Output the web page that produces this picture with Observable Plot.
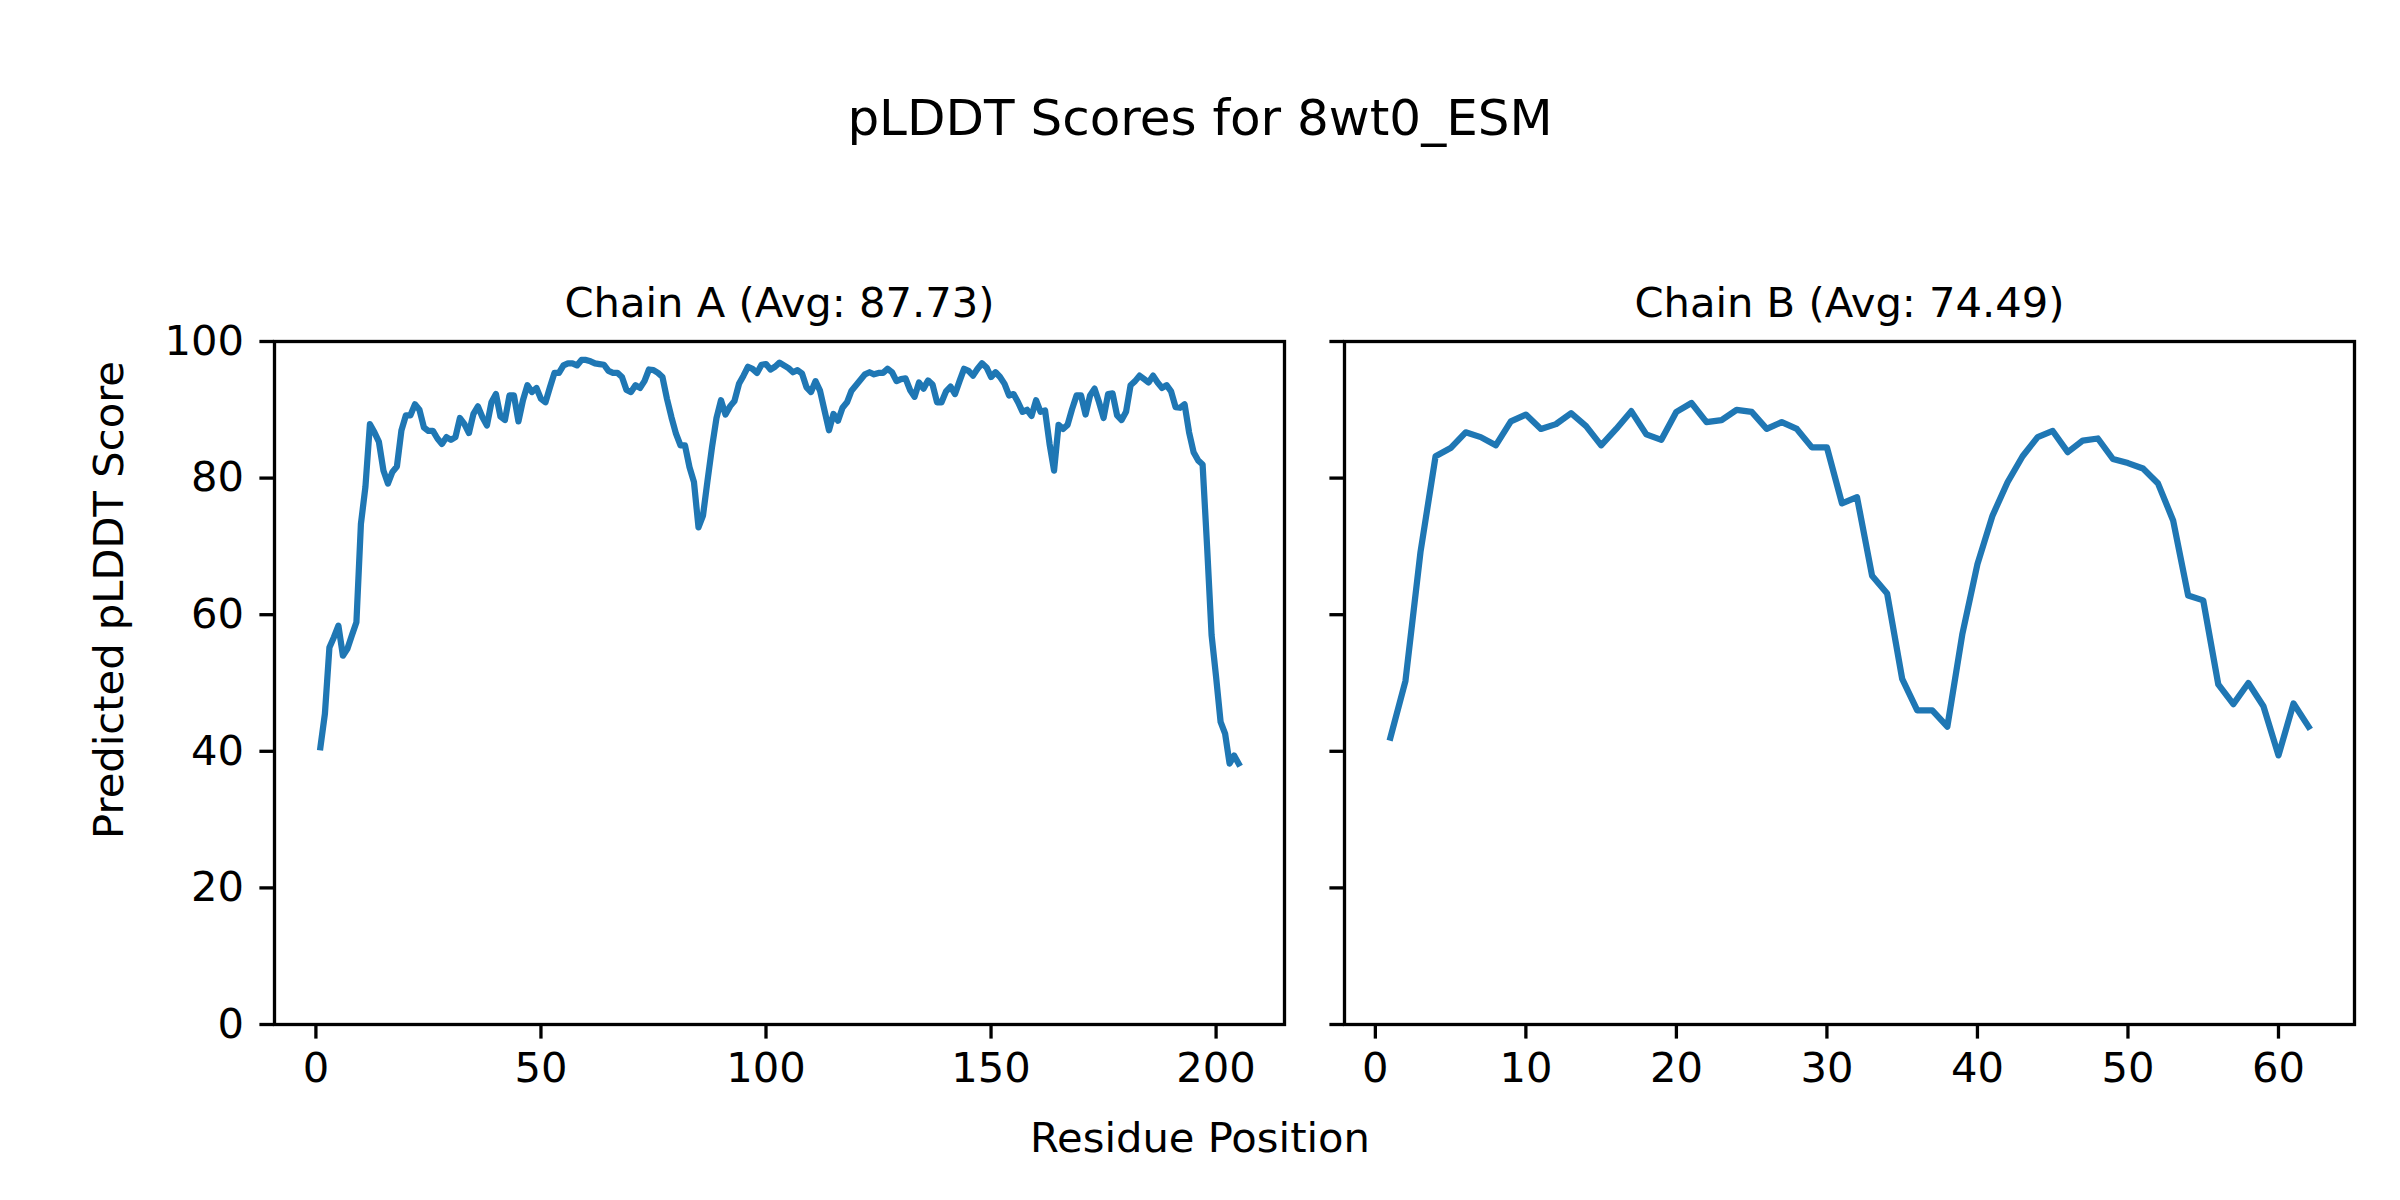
<!DOCTYPE html>
<html>
<head>
<meta charset="utf-8">
<script src="https://cdn.jsdelivr.net/npm/d3@7"></script>
<script src="https://cdn.jsdelivr.net/npm/@observablehq/plot@0.6"></script>
<style>
html, body { margin: 0; padding: 0; background: #ffffff; }
#chart { position: relative; width: 2400px; height: 1200px; font-family: "DejaVu Sans"; background: #fff; }
#chart svg { position: absolute; left: 0; top: 0; }
</style>
</head>
<body>
<div id="chart"></div>
<script>
const suptitle = "pLDDT Scores for 8wt0_ESM";
const xLabel = "Residue Position";
const yLabel = "Predicted pLDDT Score";
const titleA = "Chain A (Avg: 87.73)";
const titleB = "Chain B (Avg: 74.49)";

const yTicks = [0, 20, 40, 60, 80, 100];
const xTicksA = [0, 50, 100, 150, 200];
const xTicksB = [0, 10, 20, 30, 40, 50, 60];

// pLDDT per residue, chain A (residues 1..205)
const chainA = [
  40.6, 45.5, 55.2, 56.7, 58.4, 54.0, 55.0, 57.0, 58.9, 73.3,
  78.7, 87.9, 86.7, 85.3, 81.1, 79.2, 80.9, 81.7, 87.0, 89.2,
  89.2, 90.8, 90.0, 87.4, 86.9, 86.9, 85.8, 85.0, 86.0, 85.6,
  86.0, 88.8, 87.9, 86.6, 89.4, 90.5, 88.9, 87.7, 91.1, 92.3,
  89.0, 88.5, 92.1, 92.1, 88.3, 91.4, 93.6, 92.6, 93.2, 91.6,
  91.1, 93.3, 95.4, 95.4, 96.5, 96.8, 96.8, 96.5, 97.3, 97.3,
  97.1, 96.8, 96.7, 96.6, 95.7, 95.4, 95.4, 94.8, 92.9, 92.6,
  93.6, 93.2, 94.2, 95.9, 95.8, 95.4, 94.8, 91.6, 88.9, 86.5,
  84.8, 84.8, 81.6, 79.4, 72.8, 74.5, 79.6, 84.5, 88.8, 91.4,
  89.3, 90.5, 91.3, 93.8, 95.0, 96.3, 96.0, 95.4, 96.6, 96.7,
  95.9, 96.3, 96.9, 96.5, 96.1, 95.5, 95.8, 95.3, 93.3, 92.6,
  94.2, 92.8, 89.9, 87.0, 89.4, 88.4, 90.3, 91.1, 92.8, 93.6,
  94.4, 95.2, 95.5, 95.2, 95.4, 95.4, 96.0, 95.5, 94.2, 94.5,
  94.6, 92.9, 91.9, 94.0, 93.1, 94.3, 93.7, 91.1, 91.1, 92.7,
  93.4, 92.3, 94.2, 96.0, 95.7, 95.0, 96.0, 96.8, 96.2, 94.8,
  95.5, 94.8, 93.8, 92.1, 92.3, 91.1, 89.7, 90.0, 89.1, 91.4,
  89.7, 89.9, 85.0, 81.1, 87.8, 87.2, 87.8, 90.1, 92.1, 92.1,
  89.3, 92.1, 93.1, 91.1, 88.8, 92.3, 92.4, 89.2, 88.5, 89.7,
  93.6, 94.2, 95.0, 94.5, 94.0, 95.0, 94.0, 93.2, 93.6, 92.7,
  90.4, 90.3, 90.8, 86.7, 83.8, 82.6, 82.0, 70.0, 57.0, 50.9,
  44.3, 42.6, 38.2, 39.4, 38.2
];

// pLDDT per residue, chain B (residues 1..62)
const chainB = [
  42.0, 50.3, 69.2, 83.2, 84.4, 86.7, 86.0, 84.8, 88.3, 89.3,
  87.2, 87.9, 89.5, 87.6, 84.8, 87.2, 89.8, 86.4, 85.6, 89.7,
  91.0, 88.2, 88.5, 90.0, 89.7, 87.2, 88.2, 87.2, 84.5, 84.5,
  76.3, 77.2, 65.7, 63.1, 50.6, 46.0, 46.0, 43.6, 57.2, 67.4,
  74.5, 79.4, 83.2, 86.0, 86.9, 83.8, 85.5, 85.8, 82.8, 82.2,
  81.4, 79.2, 73.8, 62.8, 62.1, 49.8, 46.9, 50.0, 46.6, 39.4,
  47.0, 43.6
];

const W = 2400, H = 1200;
const FONT = "DejaVu Sans";
const TICK_FS = 41.67;

function panel(values, xDomain, xTicks, title, showYLabels, left, right) {
  const data = values.map((v, i) => ({ residue: i + 1, score: v }));
  return Plot.plot({
    width: W,
    height: H,
    marginLeft: left,
    marginRight: W - right,
    marginTop: 341,
    marginBottom: 176,
    x: { domain: xDomain, label: null },
    y: { domain: [0, 100], label: null },
    style: { fontFamily: FONT, fontSize: TICK_FS + "px", background: "transparent", color: "black", overflow: "visible" },
    marks: [
      Plot.axisX({ ticks: xTicks, tickSize: 14.6, tickPadding: 13, strokeWidth: 3.3, fontSize: TICK_FS, label: null, tickFormat: d => String(d) }),
      Plot.axisY({ ticks: yTicks, tickSize: 14.6, tickPadding: 16, strokeWidth: 3.3, fontSize: TICK_FS, label: null,
                   tickFormat: showYLabels ? (d => String(d)) : (() => "") }),
      Plot.line(data, { x: "residue", y: "score", stroke: "#1f77b4", strokeWidth: 6.25, strokeLinejoin: "round", strokeLinecap: "square" }),
      Plot.frame({ stroke: "black", strokeWidth: 3.3 }),
      Plot.text([title], { text: d => d, frameAnchor: "top", dy: -25, lineAnchor: "bottom", fontSize: TICK_FS, fill: "black" })
    ]
  });
}

const chart = document.getElementById("chart");
chart.appendChild(panel(chainA, [-9.2, 215.2], xTicksA, titleA, true, 274, 1284));
chart.appendChild(panel(chainB, [-2.05, 65.05], xTicksB, titleB, false, 1344, 2354));

const overlay = d3.create("svg").attr("width", W).attr("height", H).style("font-family", FONT);
overlay.append("text").attr("x", 1200).attr("y", 135).attr("text-anchor", "middle")
  .attr("font-size", 50).attr("fill", "black").text(suptitle);
overlay.append("text").attr("x", 1200).attr("y", 1152).attr("text-anchor", "middle")
  .attr("font-size", TICK_FS).attr("fill", "black").text(xLabel);
overlay.append("text").attr("transform", "translate(123,600) rotate(-90)").attr("text-anchor", "middle")
  .attr("font-size", TICK_FS).attr("fill", "black").text(yLabel);
chart.appendChild(overlay.node());
</script>
</body>
</html>
